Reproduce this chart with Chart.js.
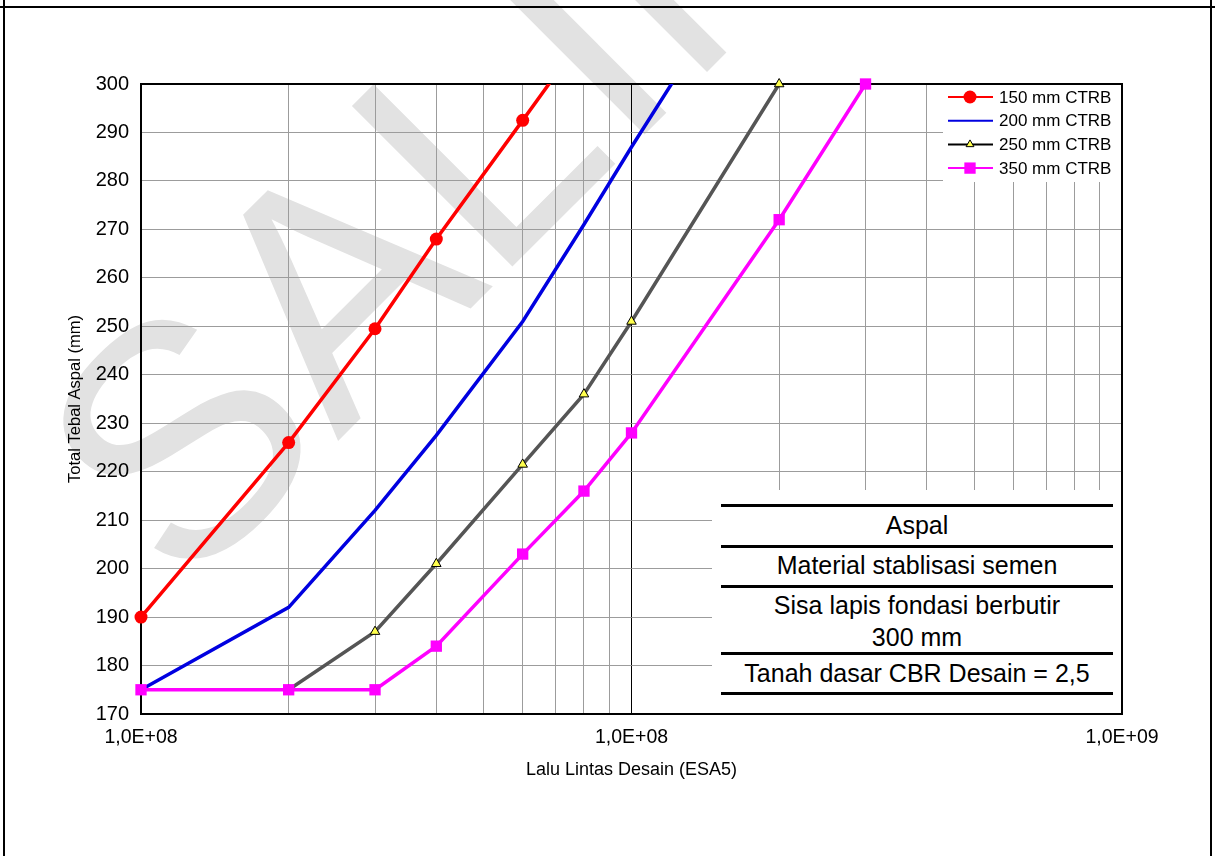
<!DOCTYPE html>
<html>
<head>
<meta charset="utf-8">
<title>Total Tebal Aspal vs Lalu Lintas Desain</title>
<script src="https://cdn.jsdelivr.net/npm/chart.js@4.4.1/dist/chart.umd.min.js"></script>
<style>
  html, body { margin: 0; padding: 0; background: #fff; }
  #wrap { position: relative; width: 1215px; height: 856px; overflow: hidden; font-family: "Liberation Sans", Arial, sans-serif; }
  #chart { position: absolute; left: 0; top: 0; }
  .frame { position: absolute; background: #000; }
  #layers { position: absolute; left: 712px; top: 490px; width: 409px; height: 223px; background: #fff; }
  #layers .rule { position: absolute; left: 9px; width: 392px; height: 3px; background: #000; }
  #layers .txt { position: absolute; left: 9px; width: 392px; text-align: center; font-size: 25px; line-height: 30px; color: #000; }
</style>
</head>
<body>
<div id="wrap">
  <canvas id="chart" width="1215" height="856"></canvas>
  <div class="frame" style="left:0;top:6px;width:1215px;height:2px"></div>
  <div class="frame" style="left:3px;top:0;width:2px;height:856px"></div>
  <div class="frame" style="left:1210px;top:0;width:2px;height:856px"></div>
  <div id="layers"></div>
</div>
<script>
// --- axis data ---
const tickValues = [1e7, 1e8, 1e9];
const tickLabels = ['1,0E+08', '1,0E+08', '1,0E+09'];
const yMin = 170, yMax = 300, yStep = 10;

// --- series (ESA5 vs total asphalt thickness, mm) ---
const seriesNames = ['150 mm CTRB', '200 mm CTRB', '250 mm CTRB', '350 mm CTRB'];
const esa150 = [1e7, 2e7, 3e7, 4e7, 6e7, 8e7];
const tebal150 = [190, 226, 249.5, 268, 292.5, 310];
const esa200 = [1e7, 2e7, 3e7, 4e7, 6e7, 8e7, 1e8, 2e8];
const tebal200 = [175, 192, 212, 227.5, 251, 271, 287, 335];
const esa250 = [2e7, 3e7, 4e7, 6e7, 8e7, 1e8, 2e8];
const tebal250 = [175, 187, 201, 221.5, 236, 251, 300];
const esa350 = [1e7, 2e7, 3e7, 4e7, 6e7, 8e7, 1e8, 2e8, 3e8];
const tebal350 = [175, 175, 175, 184, 203, 216, 228, 272, 300];

// layer description box
const layerLabels = ['Aspal', 'Material stablisasi semen', 'Sisa lapis fondasi berbutir', '300 mm', 'Tanah dasar CBR Desain = 2,5'];

function pts(xs, ys) {
  return xs.map((x, i) => ({ x: x, y: ys[i] }));
}

// --- layer box (html overlay) ---
const layers = document.getElementById('layers');
[14, 55, 95, 162, 202].forEach(t => {
  const r = document.createElement('div');
  r.className = 'rule';
  r.style.top = t + 'px';
  layers.appendChild(r);
});
[20, 60, 100, 132, 168].forEach((t, i) => {
  const d = document.createElement('div');
  d.className = 'txt';
  d.style.top = t + 'px';
  d.textContent = layerLabels[i];
  layers.appendChild(d);
});

const FONT = '"Liberation Sans", Arial, sans-serif';

// watermark behind everything
const watermark = {
  id: 'watermark',
  beforeDraw(chart) {
    const ctx = chart.ctx;
    ctx.save();
    ctx.translate(182, 597);
    ctx.rotate(-Math.PI / 4);
    ctx.font = '330px ' + FONT;
    ctx.fillStyle = '#e2e2e2';
    ctx.textBaseline = 'alphabetic';
    ctx.fillText('SALINAN', 0, 0);
    ctx.restore();
  }
};

// black frame round plot area (before the lines, so markers sit on top)
const plotFrame = {
  id: 'plotFrame',
  beforeDatasetsDraw(chart) {
    const { ctx, chartArea: a } = chart;
    ctx.save();
    ctx.strokeStyle = '#000';
    ctx.lineWidth = 2;
    ctx.strokeRect(a.left, a.top, a.right - a.left, a.bottom - a.top);
    ctx.restore();
  }
};

// legend box in the top right corner of the plot
const legendBox = {
  id: 'legendBox',
  afterDatasetsDraw(chart) {
    const { ctx, chartArea: a } = chart;
    const w = 179, h = 97;
    const x0 = a.right - w;
    ctx.save();
    ctx.fillStyle = '#fff';
    ctx.fillRect(x0, a.top + 1, w - 1, h);
    chart.data.datasets.forEach((ds, i) => {
      const y = a.top + 13 + i * 23.7;
      ctx.strokeStyle = ds.legendColor || ds.borderColor;
      ctx.lineWidth = 2;
      ctx.beginPath();
      ctx.moveTo(x0 + 5, y);
      ctx.lineTo(x0 + 50, y);
      ctx.stroke();
      if (ds.pointRadius > 0) {
        ctx.fillStyle = ds.pointBackgroundColor;
        ctx.strokeStyle = ds.pointBorderColor;
        ctx.lineWidth = ds.pointBorderWidth;
        Chart.helpers.drawPoint(ctx, {
          pointStyle: ds.pointStyle,
          radius: ds.legendRadius || ds.pointRadius,
          rotation: 0,
          borderWidth: ds.pointBorderWidth
        }, x0 + 27, y);
      }
      ctx.fillStyle = '#000';
      ctx.font = '17px ' + FONT;
      ctx.textBaseline = 'middle';
      ctx.textAlign = 'left';
      ctx.fillText(ds.label, x0 + 56, y + 1);
    });
    ctx.restore();
  }
};

const clipTop0 = { left: 9, top: 0, right: 0, bottom: 0 };
const clipTopOpen = { left: 9, top: 9, right: 0, bottom: 0 };

new Chart(document.getElementById('chart').getContext('2d'), {
  type: 'line',
  data: {
    datasets: [
      {
        label: seriesNames[0], data: pts(esa150, tebal150),
        borderColor: '#ff0000', borderWidth: 3.5,
        pointStyle: 'circle', pointRadius: 6.5, pointBackgroundColor: '#ff0000',
        pointBorderColor: '#ff0000', pointBorderWidth: 0, clip: clipTop0
      },
      {
        label: seriesNames[1], data: pts(esa200, tebal200),
        borderColor: '#0000e0', borderWidth: 3.5,
        pointRadius: 0, clip: clipTop0
      },
      {
        label: seriesNames[2], data: pts(esa250, tebal250),
        borderColor: '#555555', legendColor: '#000000', borderWidth: 3.5,
        pointStyle: 'triangle', pointRadius: 5.5, legendRadius: 4.5, pointBackgroundColor: '#ffff4d',
        pointBorderColor: '#000000', pointBorderWidth: 1, clip: clipTopOpen
      },
      {
        label: seriesNames[3], data: pts(esa350, tebal350),
        borderColor: '#ff00ff', borderWidth: 3.5,
        pointStyle: 'rect', pointRadius: 8, pointBackgroundColor: '#ff00ff',
        pointBorderColor: '#ff00ff', pointBorderWidth: 0, clip: clipTopOpen, order: -1
      }
    ]
  },
  options: {
    responsive: false,
    animation: false,
    devicePixelRatio: 1,
    layout: { padding: { left: 50, right: 93, top: 84, bottom: 62 } },
    elements: { line: { tension: 0 } },
    plugins: {
      legend: { display: false },
      tooltip: { enabled: false }
    },
    scales: {
      x: {
        type: 'logarithmic',
        min: tickValues[0],
        max: tickValues[tickValues.length - 1],
        afterBuildTicks: (scale) => {
          const t = [];
          for (let d = tickValues[0]; d < tickValues[tickValues.length - 1]; d *= 10) {
            for (let s = 1; s <= 9; s++) t.push({ value: s * d });
          }
          t.push({ value: tickValues[tickValues.length - 1] });
          scale.ticks = t;
        },
        afterFit: (scale) => { scale.height = 80; },
        grid: {
          drawTicks: false,
          color: (c) => (c.tick && c.tick.value === 1e8 ? '#000' : '#9c9c9c'),
          lineWidth: 1
        },
        border: { display: false },
        ticks: {
          autoSkip: false,
          maxRotation: 0,
          padding: 12,
          color: '#000',
          font: { family: FONT, size: 19.5 },
          callback: (v) => {
            const i = tickValues.indexOf(v);
            return i >= 0 ? tickLabels[i] : '';
          }
        },
        title: {
          display: true,
          text: 'Lalu Lintas Desain (ESA5)',
          color: '#000',
          font: { family: FONT, size: 18 },
          padding: { top: 0, bottom: 13 }
        }
      },
      y: {
        min: yMin,
        max: yMax,
        afterFit: (scale) => { scale.width = 91; },
        grid: { drawTicks: false, color: '#9c9c9c', lineWidth: 1 },
        border: { display: false },
        ticks: {
          stepSize: yStep,
          padding: 12,
          color: '#000',
          font: { family: FONT, size: 20 }
        },
        title: {
          display: true,
          text: 'Total Tebal Aspal (mm)',
          color: '#000',
          font: { family: FONT, size: 16.5 },
          padding: { top: 16, bottom: 0 }
        }
      }
    }
  },
  plugins: [watermark, plotFrame, legendBox]
});
</script>
</body>
</html>
